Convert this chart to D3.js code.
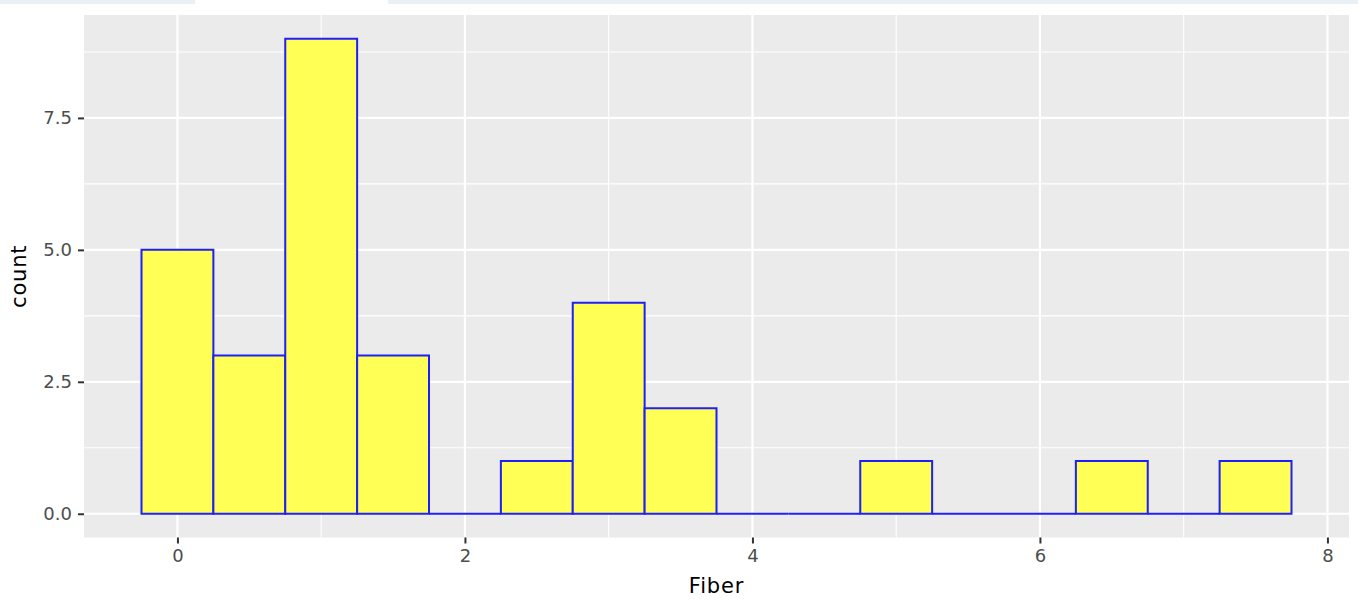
<!DOCTYPE html>
<html>
<head>
<meta charset="utf-8">
<script src="https://cdn.jsdelivr.net/npm/d3@7"></script>
<style>
  html, body { margin: 0; padding: 0; background: #ffffff; }
  svg { display: block; }
  text { font-family: "DejaVu Sans", sans-serif; }
</style>
</head>
<body>
<svg id="chart" width="1358" height="606"></svg>
<script>
// ---- data ----
const binCenters = [0, 0.5, 1, 1.5, 2, 2.5, 3, 3.5, 4, 4.5, 5, 5.5, 6, 6.5, 7, 7.5];
const counts     = [5, 3, 9, 3, 0, 1, 4, 2, 0, 0, 1, 0, 0, 1, 0, 1];
const binWidth = 0.5;
const xTicks = [0, 2, 4, 6, 8];
const xMinor = [1, 3, 5, 7];
const yTicks = [0, 2.5, 5, 7.5];
const yMinor = [1.25, 3.75, 6.25, 8.75];
const xTitle = "Fiber";
const yTitle = "count";

// ---- layout ----
const W = 1358, H = 606;
const panel = { left: 84, right: 1349, top: 15, bottom: 537.5 };

const svg = d3.select("#chart");

// top screenshot strip
svg.append("rect").attr("x", 0).attr("y", 0).attr("width", 195).attr("height", 4).attr("fill", "#e9f1f6");
svg.append("rect").attr("x", 388).attr("y", 0).attr("width", W - 388).attr("height", 4).attr("fill", "#e9f1f6");

const xLo = binCenters[0] - binWidth / 2, xHi = binCenters[binCenters.length - 1] + binWidth / 2;
const xPad = (xHi - xLo) * 0.05;
const x = d3.scaleLinear().domain([xLo - xPad, xHi + xPad]).range([panel.left, panel.right]);
const yMax = d3.max(counts);
const y = d3.scaleLinear().domain([-yMax * 0.05, yMax * 1.05]).range([panel.bottom, panel.top]);

// panel background
svg.append("rect")
  .attr("x", panel.left).attr("y", panel.top)
  .attr("width", panel.right - panel.left).attr("height", panel.bottom - panel.top)
  .attr("fill", "#ebebeb");

const grid = svg.append("g");
// minor grid
grid.selectAll(".vminor").data(xMinor).join("line")
  .attr("x1", d => x(d)).attr("x2", d => x(d))
  .attr("y1", panel.top).attr("y2", panel.bottom)
  .attr("stroke", "#ffffff").attr("stroke-width", 1.1);
grid.selectAll(".hminor").data(yMinor).join("line")
  .attr("class", "hminor")
  .attr("y1", d => y(d)).attr("y2", d => y(d))
  .attr("x1", panel.left).attr("x2", panel.right)
  .attr("stroke", "#ffffff").attr("stroke-width", 1.1);
// major grid
grid.selectAll(".vmajor").data(xTicks).join("line")
  .attr("class", "vmajor")
  .attr("x1", d => x(d)).attr("x2", d => x(d))
  .attr("y1", panel.top).attr("y2", panel.bottom)
  .attr("stroke", "#ffffff").attr("stroke-width", 2.2);
grid.selectAll(".hmajor").data(yTicks).join("line")
  .attr("class", "hmajor")
  .attr("y1", d => y(d)).attr("y2", d => y(d))
  .attr("x1", panel.left).attr("x2", panel.right)
  .attr("stroke", "#ffffff").attr("stroke-width", 2.2);

// bars
const bins = binCenters.map((c, i) => ({ x0: c - binWidth / 2, x1: c + binWidth / 2, n: counts[i] }));
svg.append("g").selectAll("path").data(bins).join("path")
  .attr("d", d => `M${x(d.x0)},${y(0)}V${y(d.n)}H${x(d.x1)}V${y(0)}Z`)
  .attr("fill", "#ffff55")
  .attr("stroke", "#1f1ff8")
  .attr("stroke-width", 2);

// axes
const xAxis = d3.axisBottom(x).tickValues(xTicks).tickFormat(d3.format("d")).tickSize(6).tickPadding(6);
const gx = svg.append("g").attr("transform", `translate(0,${panel.bottom})`).call(xAxis);
gx.select(".domain").remove();
gx.selectAll(".tick line").attr("stroke", "#333333").attr("stroke-width", 2);
gx.selectAll(".tick text").attr("fill", "#4d4d4d").style("font-size", "18px").style("font-family", "DejaVu Sans");

const yAxis = d3.axisLeft(y).tickValues(yTicks).tickFormat(d3.format(".1f")).tickSize(6).tickPadding(6);
const gy = svg.append("g").attr("transform", `translate(${panel.left},0)`).call(yAxis);
gy.select(".domain").remove();
gy.selectAll(".tick line").attr("stroke", "#333333").attr("stroke-width", 2);
gy.selectAll(".tick text").attr("fill", "#4d4d4d").style("font-size", "18px").style("font-family", "DejaVu Sans");

// titles
svg.append("text")
  .attr("x", (panel.left + panel.right) / 2).attr("y", 593)
  .attr("text-anchor", "middle")
  .attr("fill", "#000000")
  .style("font-size", "21px")
  .style("letter-spacing", "0.8px")
  .text(xTitle);
svg.append("text")
  .attr("transform", `translate(26,${(panel.top + panel.bottom) / 2}) rotate(-90)`)
  .attr("text-anchor", "middle")
  .attr("fill", "#000000")
  .style("font-size", "21px")
  .style("letter-spacing", "0.8px")
  .text(yTitle);
</script>
</body>
</html>
